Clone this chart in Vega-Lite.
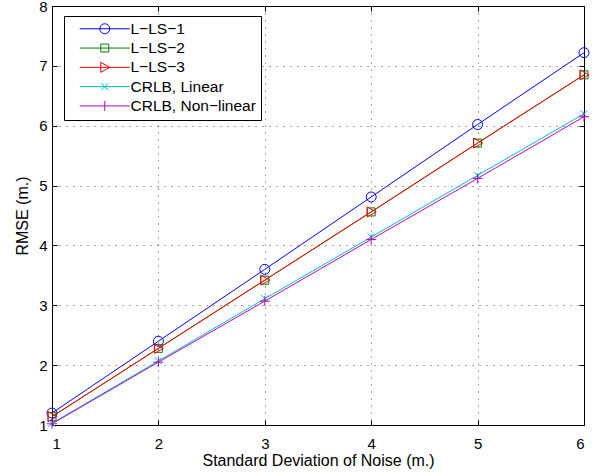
{
  "$schema": "https://vega.github.io/schema/vega-lite/v6.json",
  "width": 532,
  "height": 419,
  "autosize": {"type": "none"},
  "padding": {"left": 52, "top": 6, "right": 19, "bottom": 49},
  "background": "white",
  "config": {
    "font": "Liberation Sans",
    "view": {"stroke": "black", "strokeWidth": 1},
    "axis": {
      "domainColor": "black",
      "tickColor": "black",
      "labelColor": "black",
      "titleColor": "black",
      "labelFont": "Liberation Sans",
      "titleFont": "Liberation Sans",
      "labelFontSize": 15,
      "titleFontSize": 16,
      "titleFontWeight": "normal",
      "gridColor": "black",
      "gridOpacity": 0.7,
      "gridDash": [1, 6],
      "tickSize": -5,
      "tickWidth": 1
    },
    "legend": {
      "labelFont": "Liberation Sans",
      "labelFontSize": 15.5,
      "labelColor": "black",
      "orient": "none",
      "legendX": 12,
      "legendY": 10,
      "strokeColor": "black",
      "fillColor": "white",
      "padding": 5,
      "symbolSize": 100,
      "symbolStrokeWidth": 1,
      "symbolOffset": 28,
      "labelOffset": 18,
      "rowPadding": 2.3
    },
    "point": {"size": 100, "strokeWidth": 1, "filled": false, "opacity": 1}
  },
  "data": {
    "values": [
      {"x": 1, "y": 1.2, "series": "L−LS−1"},
      {"x": 2, "y": 2.4, "series": "L−LS−1"},
      {"x": 3, "y": 3.6, "series": "L−LS−1"},
      {"x": 4, "y": 4.81, "series": "L−LS−1"},
      {"x": 5, "y": 6.02, "series": "L−LS−1"},
      {"x": 6, "y": 7.22, "series": "L−LS−1"},
      {"x": 1, "y": 1.14, "series": "L−LS−2"},
      {"x": 2, "y": 2.28, "series": "L−LS−2"},
      {"x": 3, "y": 3.42, "series": "L−LS−2"},
      {"x": 4, "y": 4.56, "series": "L−LS−2"},
      {"x": 5, "y": 5.71, "series": "L−LS−2"},
      {"x": 6, "y": 6.85, "series": "L−LS−2"},
      {"x": 1, "y": 1.14, "series": "L−LS−3"},
      {"x": 2, "y": 2.28, "series": "L−LS−3"},
      {"x": 3, "y": 3.42, "series": "L−LS−3"},
      {"x": 4, "y": 4.56, "series": "L−LS−3"},
      {"x": 5, "y": 5.71, "series": "L−LS−3"},
      {"x": 6, "y": 6.85, "series": "L−LS−3"},
      {"x": 1, "y": 1.03, "series": "CRLB, Linear"},
      {"x": 2, "y": 2.07, "series": "CRLB, Linear"},
      {"x": 3, "y": 3.11, "series": "CRLB, Linear"},
      {"x": 4, "y": 4.14, "series": "CRLB, Linear"},
      {"x": 5, "y": 5.17, "series": "CRLB, Linear"},
      {"x": 6, "y": 6.2, "series": "CRLB, Linear"},
      {"x": 1, "y": 1.02, "series": "CRLB, Non−linear"},
      {"x": 2, "y": 2.05, "series": "CRLB, Non−linear"},
      {"x": 3, "y": 3.07, "series": "CRLB, Non−linear"},
      {"x": 4, "y": 4.1, "series": "CRLB, Non−linear"},
      {"x": 5, "y": 5.12, "series": "CRLB, Non−linear"},
      {"x": 6, "y": 6.15, "series": "CRLB, Non−linear"}
    ]
  },
  "encoding": {
    "x": {"field": "x", "type": "quantitative", "scale": {"domain": [1, 6], "nice": false}, "axis": null},
    "y": {"field": "y", "type": "quantitative", "scale": {"domain": [1, 8], "nice": false, "zero": false}, "axis": null},
    "color": {
      "field": "series", "type": "nominal", "sort": null,
      "scale": {
        "domain": ["L−LS−1", "L−LS−2", "L−LS−3", "CRLB, Linear", "CRLB, Non−linear"],
        "range": ["#0000FF", "#008000", "#FF0000", "#00BFBF", "#BF00BF"]
      },
      "legend": {
        "title": null,
        "encode": {
          "symbols": {
            "update": {
              "shape": {"signal": "datum.index === 0 ? 'M-5,0L5,0M1,0A1,1,0,1,1,-1,0A1,1,0,1,1,1,0Z' : datum.index === 1 ? 'M-5,0L5,0M-0.8,-0.8L0.8,-0.8L0.8,0.8L-0.8,0.8Z' : datum.index === 2 ? 'M-5,0L5,0M-0.8,-1L1,0L-0.8,1Z' : datum.index === 3 ? 'M-5,0L5,0M-0.7,-0.7L0.7,0.7M-0.7,0.7L0.7,-0.7' : 'M-5,0L5,0M0,-1L0,1'"},
              "fill": {"value": "transparent"},
              "stroke": {"scale": "color", "field": "value"},
              "strokeWidth": {"value": 1}
            }
          }
        }
      }
    }
  },
  "layer": [
    {
      "mark": {"type": "line", "strokeWidth": 1},
      "encoding": {
        "x": {
          "field": "x", "type": "quantitative",
          "axis": {"orient": "bottom", "values": [1, 2, 3, 4, 5, 6], "grid": true, "title": "Standard Deviation of Noise (m.)", "labelPadding": 16, "titlePadding": 1}
        },
        "y": {
          "field": "y", "type": "quantitative",
          "axis": {"orient": "left", "values": [1, 2, 3, 4, 5, 6, 7, 8], "grid": true, "title": "RMSE (m.)", "labelPadding": 10, "titlePadding": 8}
        }
      }
    },
    {
      "transform": [{"filter": "datum.series === 'L−LS−1'"}],
      "mark": {"type": "point", "shape": "M1,0A1,1,0,1,1,-1,0A1,1,0,1,1,1,0Z"}
    },
    {
      "transform": [{"filter": "datum.series === 'L−LS−2'"}],
      "mark": {"type": "point", "shape": "M-0.8,-0.8L0.8,-0.8L0.8,0.8L-0.8,0.8Z"}
    },
    {
      "transform": [{"filter": "datum.series === 'L−LS−3'"}],
      "mark": {"type": "point", "shape": "M-0.8,-1L1,0L-0.8,1Z"}
    },
    {
      "transform": [{"filter": "datum.series === 'CRLB, Linear'"}],
      "mark": {"type": "point", "shape": "M-0.7,-0.7L0.7,0.7M-0.7,0.7L0.7,-0.7"}
    },
    {
      "transform": [{"filter": "datum.series === 'CRLB, Non−linear'"}],
      "mark": {"type": "point", "shape": "M-1,0L1,0M0,-1L0,1"}
    },
    {
      "mark": {"type": "point", "opacity": 0},
      "encoding": {
        "x": {"field": "x", "type": "quantitative", "axis": {"orient": "top", "values": [1, 2, 3, 4, 5, 6], "labels": false, "title": null, "grid": false}},
        "y": {"field": "y", "type": "quantitative", "axis": {"orient": "right", "values": [1, 2, 3, 4, 5, 6, 7, 8], "labels": false, "title": null, "grid": false}}
      }
    }
  ],
  "resolve": {"axis": {"x": "independent", "y": "independent"}}
}
